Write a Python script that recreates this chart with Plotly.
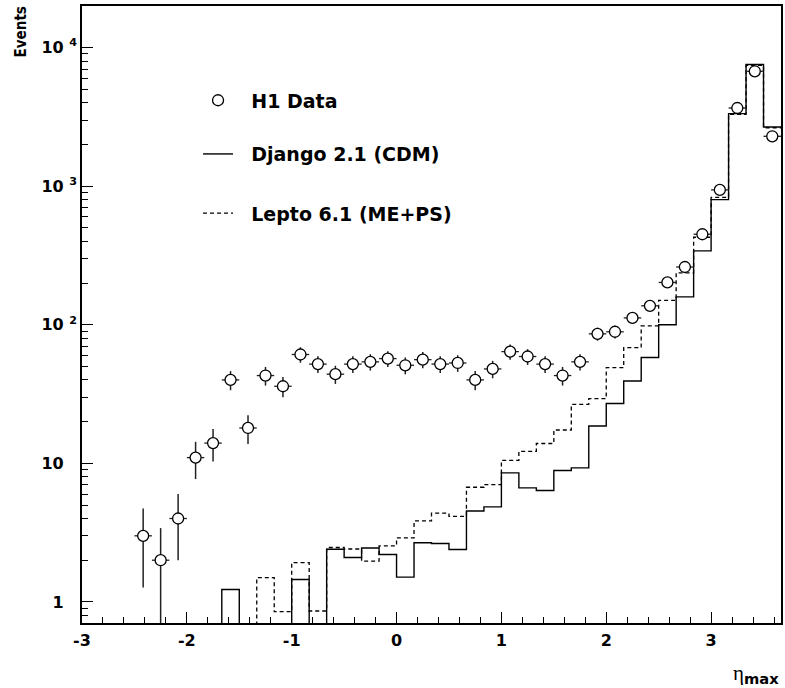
import plotly.graph_objects as go

# eta_max binning: 40 bins of width 1/6 between -3 and 11/3
bin_lo = -3.0
bin_width = 1.0 / 6.0
n_bins = 40

# H1 data: bins 3..39 (bin index k covers [-3 + k/6, -3 + (k+1)/6])
data_bins = list(range(3, 40))
h1_events = [3, 2, 4, 11, 14, 40, 18, 43, 36, 61,
             52, 44, 52, 54, 57, 51, 56, 52, 53, 40,
             48, 64, 59, 52, 43, 54, 86, 89, 112, 137,
             202, 261, 450, 940, 3665, 6745, 2290]
h1_errors = [1.73, 1.41, 2.0, 3.3, 3.7, 6.3, 4.2, 6.6, 6.0, 7.8,
             7.2, 6.6, 7.2, 7.3, 7.5, 7.1, 7.5, 7.2, 7.3, 6.3,
             6.9, 8.0, 7.7, 7.2, 6.6, 7.3, 9.3, 9.4, 10.6, 11.7,
             14.2, 16.2, 21.2, 30.7, 60.5, 82.1, 47.9]

# Monte Carlo predictions, one value per bin (k = 0..39)
django = [0, 0, 0, 0, 0, 0, 0, 0, 1.23, 0,
          0, 0, 1.45, 0, 2.40, 2.09, 2.45, 2.20, 1.51, 2.67,
          2.64, 2.39, 4.53, 4.85, 8.53, 6.65, 6.37, 8.87, 9.27, 18.6,
          27.0, 39.3, 58.0, 100, 159, 341, 800, 3340, 7540, 2674]
lepto = [0, 0, 0, 0, 0, 0, 0, 0, 0, 0,
         1.50, 0.85, 1.92, 0.86, 2.47, 2.41, 1.97, 2.54, 2.90, 3.84,
         4.37, 4.15, 6.72, 7.03, 10.5, 12.2, 13.9, 17.4, 26.6, 29.3,
         49.1, 68.5, 98, 150, 237, 428, 830, 3300, 7450, 2640]

x_tick_vals = [-3, -2, -1, 0, 1, 2, 3]
x_tick_text = ["-3", "-2", "-1", "0", "1", "2", "3"]
y_tick_vals = [1, 10, 100, 1000, 10000]
y_tick_text = ["1\u00a0<sup>\u2007</sup>", "10\u00a0<sup>\u2007</sup>",
               "10\u00a0<sup>2</sup>", "10\u00a0<sup>3</sup>", "10\u00a0<sup>4</sup>"]

# ---------------------------------------------------------------------------
edges = [bin_lo + i * bin_width for i in range(n_bins + 1)]
centers = [bin_lo + (k + 0.5) * bin_width for k in data_bins]
half_width = [bin_width / 2.0] * len(data_bins)

LOG_FLOOR = 1e-3  # empty bins drop below the visible range


def step_y(values):
    v = [val if val > 0 else LOG_FLOOR for val in values]
    return v + [v[-1]]


fig = go.Figure()

fig.add_trace(go.Scatter(
    x=edges, y=step_y(django), mode="lines", line_shape="hv",
    line=dict(color="black", width=1.4),
    name="\u00a0\u00a0Django 2.1 (CDM)", legend="legend2", hoverinfo="skip",
))
fig.add_trace(go.Scatter(
    x=edges, y=step_y(lepto), mode="lines", line_shape="hv",
    line=dict(color="black", width=1.3, dash="4px,3px"),
    name="\u00a0\u00a0Lepto 6.1 (ME+PS)", legend="legend3", hoverinfo="skip",
))
fig.add_trace(go.Scatter(
    x=centers, y=h1_events, mode="markers",
    marker=dict(symbol="circle", size=11, color="white",
                line=dict(color="black", width=1.3)),
    error_y=dict(type="data", array=h1_errors, visible=True, width=0,
                 color="#222", thickness=1.5),
    error_x=dict(type="data", array=half_width, visible=True, width=0,
                 color="#222", thickness=1.3),
    name="\u00a0\u00a0H1 Data", legend="legend",
))

tick_font = dict(family="DejaVu Sans", size=16, color="black", weight="bold")
legend_common = dict(
    font=dict(family="DejaVu Sans", size=19, color="black", weight="bold"),
    bgcolor="rgba(0,0,0,0)", borderwidth=0, xanchor="left", yanchor="middle",
    itemwidth=30, itemclick=False,
)

y_minor = [0.8, 0.9]
for dec in [1, 10, 100, 1000]:
    y_minor += [m * dec for m in range(2, 10)]
y_minor.append(20000)

fig.update_layout(
    width=785, height=688,
    margin=dict(l=82, r=2, t=6, b=65),
    paper_bgcolor="white", plot_bgcolor="white",
    showlegend=True,
    legend=dict(x=0.166, y=0.847, **legend_common),
    legend2=dict(x=0.166, y=0.760, **legend_common),
    legend3=dict(x=0.166, y=0.664, **legend_common),
    xaxis=dict(
        range=[-3, 11 / 3], showgrid=False, zeroline=False,
        showline=True, linecolor="black", linewidth=1.5, mirror=True,
        tickmode="array", tickvals=x_tick_vals, ticktext=x_tick_text,
        ticks="inside", ticklen=11, tickwidth=1.2, tickcolor="black",
        tickfont=tick_font, ticklabelstandoff=2,
        minor=dict(dtick=0.2, tick0=0, ticks="inside", ticklen=6,
                   tickwidth=1.2, tickcolor="black", showgrid=False),
    ),
    yaxis=dict(
        type="log", range=[-0.152, 4.300], showgrid=False, zeroline=False,
        showline=True, linecolor="black", linewidth=1.5, mirror=True,
        tickmode="array", tickvals=y_tick_vals, ticktext=y_tick_text,
        ticks="inside", ticklen=11, tickwidth=1.2, tickcolor="black",
        tickfont=tick_font, ticklabelstandoff=0,
        minor=dict(tickmode="array", tickvals=y_minor, ticks="inside",
                   ticklen=6, tickwidth=1.2, tickcolor="black", showgrid=False),
    ),
    annotations=[
        dict(text="Events", xref="paper", yref="paper", x=-0.088, y=0.958,
             xanchor="center", yanchor="middle", textangle=-90, showarrow=False,
             font=dict(family="DejaVu Sans Condensed, DejaVu Sans",
                       size=15, color="black", weight="bold")),
        dict(text='η<sub><span style="font-family:DejaVu Sans;font-weight:bold">max</span></sub>',
             xref="paper", yref="paper", x=1.0, y=-0.083,
             xanchor="right", yanchor="middle", showarrow=False,
             font=dict(family="Liberation Serif", size=21, color="black")),
    ],
)

fig.write_html("out.html")
